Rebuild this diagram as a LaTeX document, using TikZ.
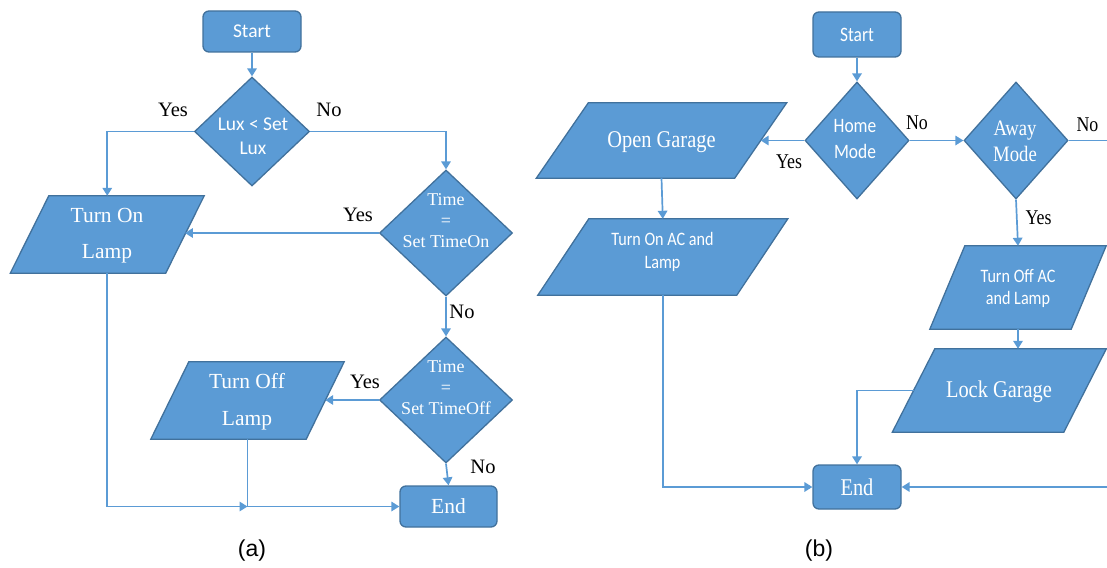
\documentclass[tikz,border=0pt]{standalone}
\usepackage{fontspec}
\setmainfont{Liberation Serif}
\newfontfamily\calib{Carlito}
\newfontfamily\calibn{Carlito}[FakeStretch=0.85]
\newfontfamily\timesn{Liberation Serif}[FakeStretch=0.85]
\newfontfamily\arialf{Liberation Sans}
\usetikzlibrary{shapes.geometric,arrows.meta,calc}
\definecolor{boxfill}{HTML}{5B9BD5}
\definecolor{boxline}{HTML}{41719C}
\definecolor{wire}{HTML}{5B9BD5}

% parallelogram: name, center, full width, height, slant
\newcommand{\pgram}[5]{%
  \node[inner sep=0pt, minimum width=#3, minimum height=#4] (#1) at (#2) {};
  \filldraw[shapeline] ($(#1.north west)+(#5,0)$) -- (#1.north east)
    -- ($(#1.south east)-(#5,0)$) -- (#1.south west) -- cycle;
  \coordinate (#1-e) at ($(#1.east)-(#5/2,0)$);
  \coordinate (#1-w) at ($(#1.west)+(#5/2,0)$);
}

\begin{document}
\begin{tikzpicture}[x=1pt,y=-1pt,
  shapeline/.style={fill=boxfill, draw=boxline, line width=1.3pt, line join=miter},
  termbox/.style={shapeline, rectangle, rounded corners=6pt, inner sep=0pt},
  decision/.style={shapeline, diamond, inner sep=0pt},
  txt/.style={text=white, align=center, inner sep=0pt},
  lbl/.style={text=black, inner sep=0pt, font=\fontsize{20.5}{24}\selectfont},
  lblb/.style={text=black, inner sep=0pt, font=\timesn\fontsize{21}{24}\selectfont},
  captext/.style={text=black, inner sep=0pt, font=\arialf\fontsize{23}{26}\selectfont},
  wire/.style={draw=wire, line width=1.7pt},
  flow/.style={wire, -{Triangle[length=8pt,width=9.5pt]}}]
\useasboundingbox (0,0) rectangle (1107,567);
\clip (0,0) rectangle (1107,567);

% ---------- (a) lamp control ----------
\node[termbox, minimum width=98pt, minimum height=41pt] (s1) at (252,31.5) {};
\node[txt, font=\calib\fontsize{19.5}{22}\selectfont] (s1t) at (s1) {Start};

\node[decision, minimum width=115pt, minimum height=109pt] (d1) at (252,131.5) {};
\node[txt, font=\calib\fontsize{19.5}{24}\selectfont] (d1t) at (253,136) {Lux {\textless} Set\\Lux};

\node[decision, minimum width=133pt, minimum height=126pt] (d2) at (446,233) {};
\node[txt, font=\fontsize{18}{21}\selectfont] (d2t) at (446,221) {Time\\=\\Set TimeOn};

\node[decision, minimum width=133pt, minimum height=126pt] (d3) at (446,400) {};
\node[txt, font=\fontsize{18}{21}\selectfont] (d3t) at (446,388) {Time\\=\\Set TimeOff};

\pgram{lampon}{107.25,234.5}{193.5pt}{77pt}{38.5}
\node[txt, font=\fontsize{21.5}{36}\selectfont] (lampont) at (107,236) {Turn On\\Lamp};

\pgram{lampoff}{247.5,400.5}{193pt}{77pt}{38}
\node[txt, font=\fontsize{21.5}{37}\selectfont] (lampofft) at (247,402) {Turn Off\\Lamp};

\node[termbox, minimum width=97pt, minimum height=41pt] (e1) at (448.5,506.5) {};
\node[txt, font=\fontsize{21.5}{24}\selectfont] (e1t) at (e1) {End};

\coordinate (j1) at (lampoff.south |- e1.west);

\draw[flow] (s1.south) -- (d1.north);
\draw[flow] (d1.west) -| (lampon.north);
\draw[flow] (d1.east) -| (d2.north);
\draw[flow] (d2.west) -- (d2.west -| lampon-e);
\draw[flow] (d2.south) -- (d3.north);
\draw[flow] (d3.west) -- (d3.west -| lampoff-e);
\draw[flow] (d3.south) -- (e1.north);
\draw[flow] (lampon.south) |- (j1);
\draw[flow] (lampoff.south) |- (e1.west);

\node[lbl] (ya1) at (173,110) {Yes};
\node[lbl] (na1) at (329,110) {No};
\node[lbl] (ya2) at (358,215) {Yes};
\node[lbl] (na2) at (462,312) {No};
\node[lbl] (ya3) at (365,382) {Yes};
\node[lbl] (na3) at (483,467) {No};
\node[captext] (capa) at (252,551) {(a)};

% ---------- (b) home / away mode ----------
\node[termbox, minimum width=88pt, minimum height=45pt] (s2) at (857,34.5) {};
\node[txt, font=\calibn\fontsize{20.5}{22}\selectfont] (s2t) at (s2) {Start};

\node[decision, minimum width=104pt, minimum height=117pt] (home) at (857,140.5) {};
\node[txt, font=\calibn\fontsize{20.5}{26}\selectfont] (homet) at (855,139) {Home\\Mode};

\node[decision, minimum width=104pt, minimum height=117pt] (away) at (1016,140.5) {};
\node[txt, font=\timesn\fontsize{22}{26}\selectfont] (awayt) at (1015,141) {Away\\Mode};

\pgram{garage}{661.5,140.5}{250pt}{75pt}{52}
\node[txt, font=\timesn\fontsize{24}{26}\selectfont] (garaget) at (661.5,142) {Open Garage};

\pgram{acon}{662.8,257}{249.6pt}{76pt}{51}
\node[txt, font=\calibn\fontsize{19}{23}\selectfont] (acont) at (662.5,252) {Turn On AC and\\Lamp};

\pgram{acoff}{1018,287.5}{176pt}{83pt}{35}
\node[txt, font=\calibn\fontsize{19}{22}\selectfont] (acofft) at (1018,288) {Turn Off AC\\and Lamp};

\pgram{lock}{999.3,390.5}{213.6pt}{83pt}{42.5}
\node[txt, font=\timesn\fontsize{24}{26}\selectfont] (lockt) at (999,392) {Lock Garage};

\node[termbox, minimum width=88pt, minimum height=44pt] (e2) at (857,487) {};
\node[txt, font=\timesn\fontsize{24}{26}\selectfont] (e2t) at (e2) {End};

\coordinate (farright) at (1125,140.5);

\draw[flow] (s2.south) -- (home.north);
\draw[flow] (home.east) -- (away.west);
\draw[flow] (home.west) -- (home.west -| garage-e);
\draw[flow] (garage.south) -- (acon.north);
\draw[flow] (acon.south) |- (e2.west);
\draw[flow] (away.south) -- (acoff.north);
\draw[flow] (acoff.south) -- (acoff.south |- lock.north);
\draw[flow] (lock-w) -| (e2.north);
\draw[flow] (away.east) -- (farright) |- (e2.east);

\node[lblb] (yb1) at (789,162) {Yes};
\node[lblb] (nb1) at (917,123) {No};
\node[lblb] (nb2) at (1087.5,125) {No};
\node[lblb] (yb2) at (1038.5,218) {Yes};
\node[captext] (capb) at (819,551) {(b)};
\end{tikzpicture}
\end{document}
